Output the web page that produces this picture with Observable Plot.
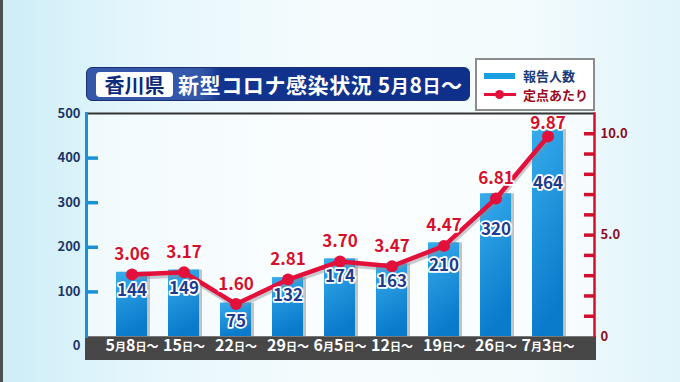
<!DOCTYPE html>
<html><head><meta charset="utf-8">
<script src="https://cdn.jsdelivr.net/npm/d3@7"></script>
<script src="https://cdn.jsdelivr.net/npm/@observablehq/plot@0.6"></script>
<style>
html,body{margin:0;padding:0;}
body{width:680px;height:382px;overflow:hidden;font-family:"Noto Sans CJK JP","Noto Sans",sans-serif;
 background:linear-gradient(90deg,#cdedf7 0%,#e6f7fc 22%,#f6fcfe 50%,#f2fbfd 78%,#e0f4fa 100%);}
#wrap{position:relative;width:680px;height:382px;}
#edge{position:absolute;left:0;top:0;width:3px;height:382px;background:#4d4f52;}
#band{position:absolute;left:85px;top:336px;width:511px;height:24px;background:#474747;}
#chart{position:absolute;left:0;top:0;}
#banner{position:absolute;left:86px;top:67px;width:384px;height:34px;border-radius:6px;box-sizing:border-box;
 border:1px solid #1b2f6e;background:linear-gradient(90deg,#3557a9 0%,#3557a9 30%,#12348f 35%,#0e2f8a 100%);}
#pref{position:absolute;left:9px;top:4px;width:77px;height:25px;background:#fff;border-radius:4px;color:#0d2a7a;
 font-weight:700;font-size:20px;line-height:25px;text-align:center;}
#ttl{position:absolute;left:91px;top:0;height:33px;line-height:33px;color:#fff;font-weight:700;font-size:21px;letter-spacing:0.6px;white-space:nowrap;}
#ttl .s{font-size:18px;}
#legend{position:absolute;left:475px;top:58px;width:120px;height:53px;box-sizing:border-box;background:#fff;border:2px solid #8c8c8c;}
.li{position:absolute;left:46px;font-weight:700;font-size:13px;line-height:16px;white-space:nowrap;}
#sw1{position:absolute;left:7px;top:13px;width:31px;height:6px;background:#1aa0e2;}
#sw2{position:absolute;left:7px;top:33px;width:32px;height:3px;background:#e3103c;}
#sw2d{position:absolute;left:18px;top:30px;width:9px;height:9px;border-radius:50%;background:#e3103c;}
</style></head>
<body><div id="wrap">
<div id="edge"></div>
<div id="band"></div>
<div id="chart"></div>
<div id="banner"><div id="pref">香川県</div><div id="ttl">新型コロナ感染状況 5<span class="s">月</span>8<span class="s">日</span>～</div></div>
<div id="legend">
 <div id="sw1"></div><div class="li" style="top:8px;color:#1b3a78">報告人数</div>
 <div id="sw2"></div><div id="sw2d"></div><div class="li" style="top:27px;color:#9a0a1c">定点あたり</div>
</div>
</div>
<script>
// ---- data ----
const weeks = ["5月8日～","15日～","22日～","29日～","6月5日～","12日～","19日～","26日～","7月3日～"];
const reports = [144,149,75,132,174,163,210,320,464];
const perSentinel = [3.06,3.17,1.60,2.81,3.70,3.47,4.47,6.81,9.87];
const leftTicks = [100,200,300,400,500];
const leftTickMarks = [100,200,300,400];
const rightTickMarks = [1,2,3,4,5,6,7,8,9,10];
const rightTickLabels = [0,5,10];
const leftMax = 500, rightMax = 11;

const toLeft = v => v * leftMax / rightMax;
const data = weeks.map((w,i)=>({week:w, count:reports[i], rate:perSentinel[i], rateY:toLeft(perSentinel[i])}));

const BLUE = "#1a90d6", RED = "#e3103c", NAVY = "#1d3c90";
const FONT = '"Noto Sans CJK JP","Noto Sans",sans-serif';

const defs = () => {
  const d = d3.create("svg:defs");
  const g = d.append("linearGradient").attr("id","barGrad").attr("x1",0).attr("y1",0).attr("x2",0.25).attr("y2",1);
  g.append("stop").attr("offset","0%").attr("stop-color","#36acec");
  g.append("stop").attr("offset","100%").attr("stop-color","#0a7acb");
  return d.node();
};

const chart = Plot.plot({
  width:680, height:382,
  marginLeft:86, marginRight:86, marginTop:113, marginBottom:46,
  style:{background:"transparent", fontFamily:FONT, overflow:"visible"},
  x:{domain:weeks, paddingInner:0.4, paddingOuter:0.58},
  y:{domain:[0,leftMax]},
  marks:[
    defs,
    Plot.frame({fill:"white", fillOpacity:0.55, stroke:"none"}),
    Plot.barY(data,{x:"week", y:"count", fill:"#bfc4c9", dx:3}),
    Plot.barY(data,{x:"week", y:"count", fill:"url(#barGrad)"}),
    Plot.lineY(data,{x:"week", y:"rateY", stroke:"#8a8f96", strokeOpacity:0.45, strokeWidth:4.5, dy:3, dx:1}),
    Plot.lineY(data,{x:"week", y:"rateY", stroke:RED, strokeWidth:4.5}),
    Plot.dot(data,{x:"week", y:"rateY", r:6, fill:RED}),
    Plot.text(data,{x:"week", y:d=>Math.min(d.count-36, 0.75*d.rateY+12), text:d=>String(d.count), dy:2,
      fill:NAVY, stroke:"white", strokeWidth:3.5, fontSize:17, fontWeight:"bold", paintOrder:"stroke"}),
    Plot.text(data,{x:"week", y:d=>Math.min(d.rateY, 432), text:d=>d.rate.toFixed(2), dy:-20,
      fill:"#d4102c", stroke:"white", strokeWidth:3.5, fontSize:17, fontWeight:"bold", paintOrder:"stroke"}),
    Plot.ruleY([leftMax],{stroke:"#333", strokeWidth:2}),
    Plot.frame({anchor:"left", stroke:BLUE, strokeWidth:3}),
    Plot.frame({anchor:"right", stroke:"#d0102c", strokeWidth:2.5}),
    Plot.axisY({anchor:"left", ticks:leftTickMarks, tickSize:-12, stroke:BLUE, strokeWidth:3.5, fill:"none", label:null}),
    Plot.axisY({anchor:"left", ticks:leftTicks, tickSize:0, tickPadding:6, fill:"#1b3565", fontSize:13, fontWeight:"bold", label:null}),
    Plot.axisY({anchor:"left", ticks:[0], tickSize:0, tickPadding:6, dy:9, fill:"#1b3565", fontSize:13, fontWeight:"bold", label:null}),
    Plot.axisY({anchor:"right", ticks:rightTickMarks.map(toLeft), tickSize:-11, stroke:"#d0102c", strokeWidth:3.5, fill:"none", label:null}),
    Plot.axisY({anchor:"right", ticks:rightTickLabels.map(toLeft), tickSize:0, tickPadding:6,
      tickFormat:v=>{const k=Math.round(v*rightMax/leftMax); return k===0?"0":k.toFixed(1);},
      fill:"#8a0c1c", fontSize:13, fontWeight:"bold", label:null}),
    Plot.axisX({tickSize:0, tickPadding:3, fill:"white", fontSize:16, fontWeight:"bold", label:null})
  ]
});
document.getElementById("chart").appendChild(chart);

// smaller 月 / 日 / ～ in the x tick labels
d3.select(chart).selectAll('g[aria-label="x-axis tick label"] text').each(function(){
  const s = this.textContent;
  const t = d3.select(this);
  t.text(null);
  for (const ch of s) {
    const sp = t.append("tspan").text(ch);
    if (ch === "月" || ch === "日") sp.attr("font-size", 11);
    else if (ch === "～") sp.attr("font-size", 12);
  }
});
</script>
</body></html>
